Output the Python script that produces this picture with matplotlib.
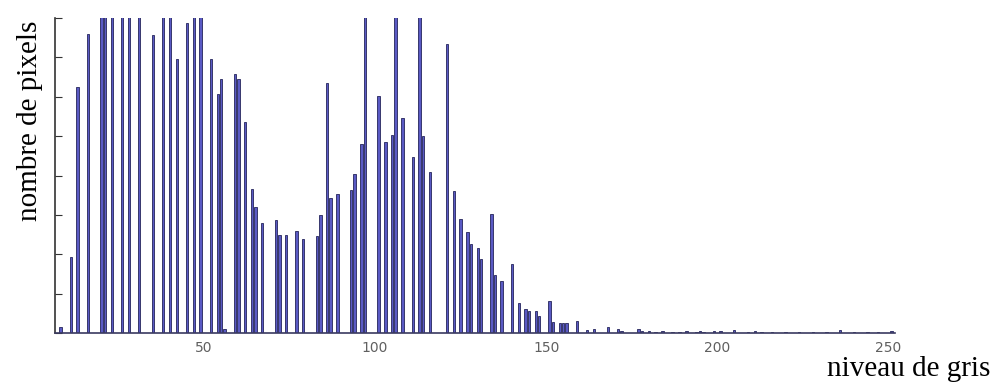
import numpy as np
from matplotlib import pyplot as plt

# niveaux de gris presents dans l'image (histogramme a trous)
niveaux = [8, 11, 13, 16, 20, 21, 23, 26, 28, 31, 35, 38, 40, 42, 45, 47, 49,
           52, 54, 55, 56, 59, 60, 62, 64, 65, 67, 71, 72, 74, 77, 79, 83, 84,
           86, 87, 89, 93, 94, 96, 97, 101, 103, 105, 106, 108, 111, 113, 114,
           116, 121, 123, 125, 127, 128, 130, 131, 134, 135, 137, 140, 142, 144,
           145, 147, 148, 151, 152, 154, 155, 156, 159, 162, 164, 168, 171, 172,
           177, 178, 180, 182, 184, 187, 189, 191, 194, 195, 196, 199, 201, 205,
           209, 211, 213, 216, 220, 224, 228, 232, 236, 240, 244, 247, 251]

# nombre de pixels (echelle arbitraire, les barres > 8 sont coupees)
nb_pixels = [0.15, 1.93, 6.24, 7.6, 9.0, 9.0, 9.0, 9.0, 9.0, 9.0, 7.56, 9.0, 9.0,
             6.95, 7.88, 9.0, 9.0, 6.95, 6.08, 6.46, 0.1, 6.57, 6.46, 5.36, 3.65,
             3.19, 2.8, 2.87, 2.5, 2.5, 2.59, 2.38, 2.46, 3.0, 6.34, 3.42, 3.53,
             3.63, 4.04, 4.79, 9.0, 6.02, 4.86, 5.03, 9.0, 5.45, 4.48, 9.0, 5.0,
             4.08, 7.33, 3.61, 2.89, 2.56, 2.25, 2.15, 1.88, 3.01, 1.47, 1.33,
             1.74, 0.75, 0.6, 0.57, 0.56, 0.43, 0.81, 0.29, 0.26, 0.25, 0.26,
             0.31, 0.07, 0.09, 0.15, 0.1, 0.04, 0.1, 0.04, 0.04, 0.03, 0.04,
             0.03, 0.03, 0.04, 0.03, 0.05, 0.03, 0.04, 0.06, 0.08, 0.03, 0.04,
             0.03, 0.03, 0.02, 0.02, 0.02, 0.02, 0.07, 0.02, 0.03, 0.02, 0.05]

xticks = [50, 100, 150, 200, 250]

fig = plt.figure(figsize=(9.96, 3.87), dpi=100)
ax = fig.add_axes([0.0552, 0.1395, 0.8434, 0.814])

ax.bar(niveaux, nb_pixels, width=0.7, color='#5a5ac4', edgecolor='#24245a',
       linewidth=0.6)

ax.set_xlim(6.4, 252)
ax.set_ylim(0, 8)

for s in ['top', 'right']:
    ax.spines[s].set_visible(False)
ax.spines['left'].set_color('#333333')
ax.spines['left'].set_linewidth(1.2)
ax.spines['bottom'].set_color('#3a3a60')
ax.spines['bottom'].set_linewidth(1.2)

ax.set_yticks(np.arange(0, 9))
ax.set_yticklabels([])
ax.tick_params(axis='y', direction='in', length=5, color='#333333')

ax.set_xticks(xticks)
ax.set_xticklabels([str(t) for t in xticks])
ax.tick_params(axis='x', length=0, pad=6, labelsize=10, labelcolor='#606060')

fig.text(0.030, 0.688, 'nombre de pixels', rotation=90, ha='center',
         va='center', family='Liberation Serif', fontsize=21)
fig.text(0.994, 0.012, 'niveau de gris', ha='right', va='bottom',
         family='Liberation Serif', fontsize=21)

fig.savefig('out.png', dpi=100)
